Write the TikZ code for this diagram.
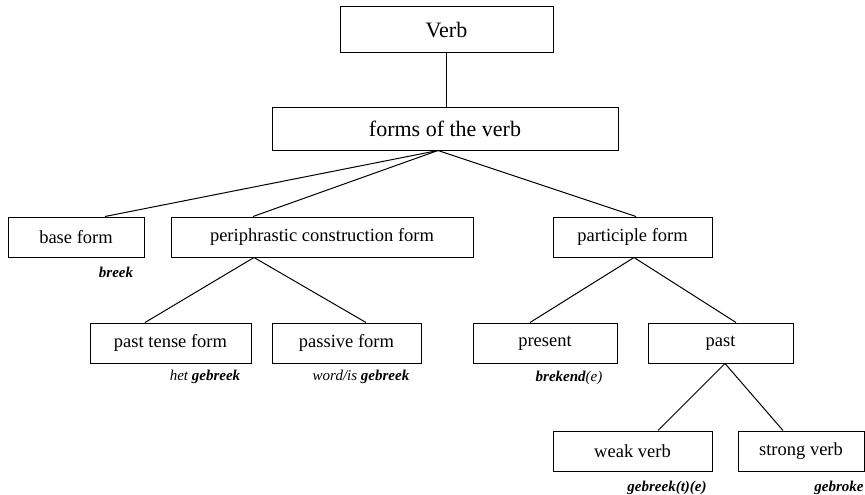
\documentclass[tikz,border=0pt]{standalone}
\usepackage{fontspec}
\setmainfont{Liberation Serif}
\begin{document}
\begin{tikzpicture}[x=1pt,y=-1pt,
  box/.style={draw,line width=1pt,inner sep=0pt,anchor=center,font=\fontsize{18.5}{20}\selectfont},
  bigbox/.style={box,font=\fontsize{22}{24}\selectfont},
  lab/.style={inner sep=0pt,anchor=center,font=\fontsize{15}{17}\selectfont\itshape},
  conn/.style={line width=1pt}]
\useasboundingbox (0,0) rectangle (865,495);
\node[bigbox,minimum width=213pt,minimum height=46pt] (verb) at (446.5,30) {Verb};
\node[bigbox,minimum width=346pt,minimum height=43pt] (forms) at (445,128.5) {forms of the verb};
\node[box,minimum width=136pt,minimum height=40pt] (base) at (76,237) {base form};
\node[box,minimum width=302pt,minimum height=40pt] (peri) at (322,237) {periphrastic construction form};
\node[box,minimum width=159pt,minimum height=40pt] (part) at (632.5,237) {participle form};
\node[box,minimum width=161pt,minimum height=40pt] (pastt) at (170.5,343) {past tense form};
\node[box,minimum width=149pt,minimum height=40pt] (pass) at (346.5,343) {passive form};
\node[box,minimum width=144pt,minimum height=40pt] (pres) at (545,343) {present};
\node[box,minimum width=145pt,minimum height=40pt] (past) at (720.5,343) {past};
\node[box,minimum width=159pt,minimum height=40pt] (weak) at (632.5,451) {weak verb};
\node[box,minimum width=126pt,minimum height=40pt] (strong) at (801,451) {strong verb};
\node[lab] (l1) at (116,272) {\textbf{breek}};
\node[lab] (l2) at (205,377) {het \textbf{gebreek}};
\node[lab] (l3) at (361,377) {word/is \textbf{gebreek}};
\node[lab] (l4) at (569,378) {\textbf{brekend}(e)};
\node[lab] (l5) at (667,488) {\textbf{gebreek(t)(e)}};
\node[lab] (l6) at (839,488) {\textbf{gebroke}};
\draw[conn] (verb.south) -- (verb.south |- forms.north);
\draw[conn] ([xshift=-7pt]forms.south) -- ([xshift=29pt]base.north);
\draw[conn] ([xshift=-7pt]forms.south) -- ([xshift=-69pt]peri.north);
\draw[conn] ([xshift=-7pt]forms.south) -- ([xshift=3.5pt]part.north);
\draw[conn] ([xshift=-68pt]peri.south) -- ([xshift=-25.5pt]pastt.north);
\draw[conn] ([xshift=-68pt]peri.south) -- ([xshift=19.5pt]pass.north);
\draw[conn] ([xshift=1.5pt]part.south) -- ([xshift=-15pt]pres.north);
\draw[conn] ([xshift=1.5pt]part.south) -- ([xshift=15.5pt]past.north);
\draw[conn] ([xshift=4.5pt]past.south) -- ([xshift=25.5pt]weak.north);
\draw[conn] ([xshift=4.5pt]past.south) -- ([xshift=-18pt]strong.north);
\end{tikzpicture}
\end{document}
